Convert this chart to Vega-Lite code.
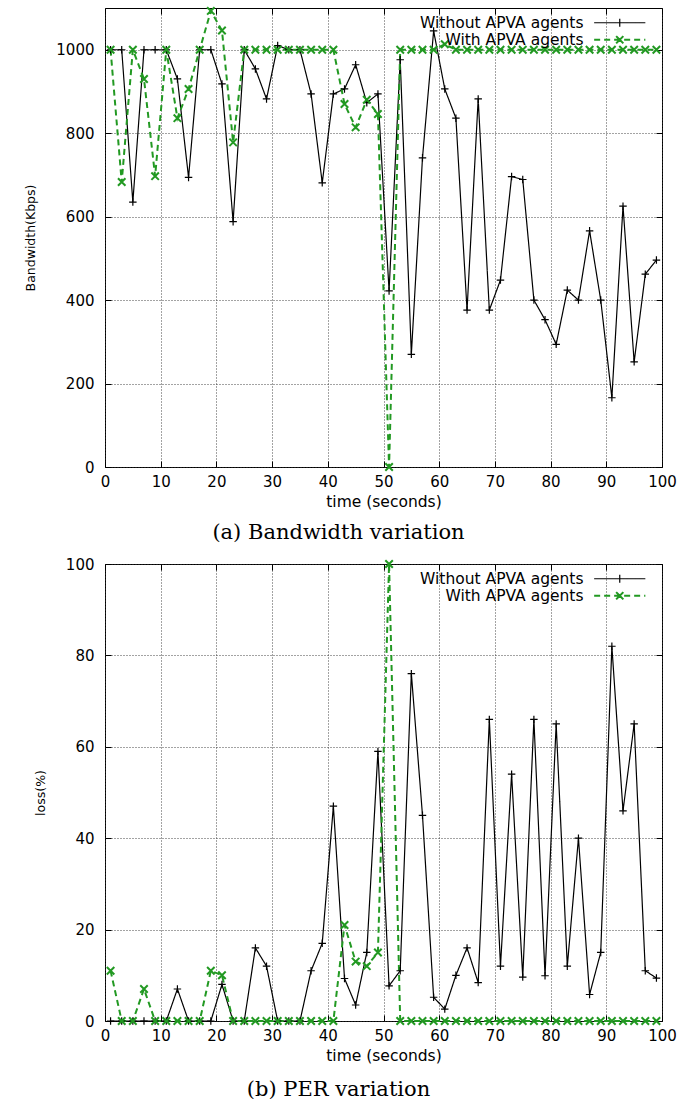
{
  "$schema": "https://vega.github.io/schema/vega-lite/v6.json",
  "padding": {"left": 24, "top": 2, "right": 0, "bottom": 0},
  "background": "white",
  "spacing": 12,
  "config": {
    "view": {"stroke": "#000", "strokeWidth": 1},
    "font": "DejaVu Sans",
    "axis": {"domain": false, "tickColor": "#000", "tickSize": -6, "tickWidth": 1, "labelColor": "#000", "labelFont": "DejaVu Sans", "labelFontSize": 15, "titleFont": "DejaVu Sans", "titleFontWeight": "normal", "titleColor": "#000", "gridColor": "#333", "gridDash": [1, 2], "gridOpacity": 0.9, "labelFlush": false, "format": "d"},
    "axisX": {"labelPadding": 13, "titlePadding": 5, "titleFontSize": 15.5},
    "axisY": {"labelPadding": 17, "titlePadding": 18, "titleFontSize": 12.5},
    "title": {"font": "DejaVu Serif", "fontSize": 21, "fontWeight": "normal", "color": "#000", "orient": "bottom", "offset": 12, "dx": -45},
    "legend": {
      "title": null, "orient": "none", "legendX": 507, "legendY": 7, "labelAlign": "right", "labelOffset": -44, "labelFontSize": 15.5, "labelFont": "DejaVu Sans", "labelColor": "#000", "symbolType": "M-6.4,0H6.4", "symbolSize": 64, "rowPadding": -4, "padding": 0, "labelLimit": 0, "symbolStrokeWidth": 1.2
    }
  },
  "datasets": {
    "bw": [
      {"t":1,"s":"Without APVA agents","v":1000},{"t":3,"s":"Without APVA agents","v":1000},{"t":5,"s":"Without APVA agents","v":635},{"t":7,"s":"Without APVA agents","v":1000},{"t":9,"s":"Without APVA agents","v":1000},{"t":11,"s":"Without APVA agents","v":1000},{"t":13,"s":"Without APVA agents","v":930},{"t":15,"s":"Without APVA agents","v":694},{"t":17,"s":"Without APVA agents","v":1000},{"t":19,"s":"Without APVA agents","v":1000},{"t":21,"s":"Without APVA agents","v":918},{"t":23,"s":"Without APVA agents","v":588},{"t":25,"s":"Without APVA agents","v":1000},{"t":27,"s":"Without APVA agents","v":954},{"t":29,"s":"Without APVA agents","v":882},{"t":31,"s":"Without APVA agents","v":1010},{"t":33,"s":"Without APVA agents","v":1000},{"t":35,"s":"Without APVA agents","v":1000},{"t":37,"s":"Without APVA agents","v":894},{"t":39,"s":"Without APVA agents","v":681},{"t":41,"s":"Without APVA agents","v":894},{"t":43,"s":"Without APVA agents","v":906},{"t":45,"s":"Without APVA agents","v":964},{"t":47,"s":"Without APVA agents","v":873},{"t":49,"s":"Without APVA agents","v":894},{"t":51,"s":"Without APVA agents","v":422},{"t":53,"s":"Without APVA agents","v":976},{"t":55,"s":"Without APVA agents","v":270},{"t":57,"s":"Without APVA agents","v":741},{"t":59,"s":"Without APVA agents","v":1045},{"t":61,"s":"Without APVA agents","v":906},{"t":63,"s":"Without APVA agents","v":836},{"t":65,"s":"Without APVA agents","v":376},{"t":67,"s":"Without APVA agents","v":882},{"t":69,"s":"Without APVA agents","v":376},{"t":71,"s":"Without APVA agents","v":448},{"t":73,"s":"Without APVA agents","v":696},{"t":75,"s":"Without APVA agents","v":689},{"t":77,"s":"Without APVA agents","v":400},{"t":79,"s":"Without APVA agents","v":353},{"t":81,"s":"Without APVA agents","v":294},{"t":83,"s":"Without APVA agents","v":424},{"t":85,"s":"Without APVA agents","v":400},{"t":87,"s":"Without APVA agents","v":566},{"t":89,"s":"Without APVA agents","v":400},{"t":91,"s":"Without APVA agents","v":166},{"t":93,"s":"Without APVA agents","v":625},{"t":95,"s":"Without APVA agents","v":252},{"t":97,"s":"Without APVA agents","v":462},{"t":99,"s":"Without APVA agents","v":496},
      {"t":1,"s":"With APVA agents","v":1000},{"t":3,"s":"With APVA agents","v":683},{"t":5,"s":"With APVA agents","v":1000},{"t":7,"s":"With APVA agents","v":930},{"t":9,"s":"With APVA agents","v":697},{"t":11,"s":"With APVA agents","v":1000},{"t":13,"s":"With APVA agents","v":836},{"t":15,"s":"With APVA agents","v":906},{"t":17,"s":"With APVA agents","v":1000},{"t":19,"s":"With APVA agents","v":1093},{"t":21,"s":"With APVA agents","v":1046},{"t":23,"s":"With APVA agents","v":778},{"t":25,"s":"With APVA agents","v":1000},{"t":27,"s":"With APVA agents","v":1000},{"t":29,"s":"With APVA agents","v":1000},{"t":31,"s":"With APVA agents","v":1000},{"t":33,"s":"With APVA agents","v":1000},{"t":35,"s":"With APVA agents","v":1000},{"t":37,"s":"With APVA agents","v":1000},{"t":39,"s":"With APVA agents","v":1000},{"t":41,"s":"With APVA agents","v":1000},{"t":43,"s":"With APVA agents","v":870},{"t":45,"s":"With APVA agents","v":814},{"t":47,"s":"With APVA agents","v":880},{"t":49,"s":"With APVA agents","v":846},{"t":51,"s":"With APVA agents","v":0},{"t":53,"s":"With APVA agents","v":1000},{"t":55,"s":"With APVA agents","v":1000},{"t":57,"s":"With APVA agents","v":1000},{"t":59,"s":"With APVA agents","v":1000},{"t":61,"s":"With APVA agents","v":1013},{"t":63,"s":"With APVA agents","v":1000},{"t":65,"s":"With APVA agents","v":1000},{"t":67,"s":"With APVA agents","v":1000},{"t":69,"s":"With APVA agents","v":1000},{"t":71,"s":"With APVA agents","v":1000},{"t":73,"s":"With APVA agents","v":1000},{"t":75,"s":"With APVA agents","v":1000},{"t":77,"s":"With APVA agents","v":1000},{"t":79,"s":"With APVA agents","v":1000},{"t":81,"s":"With APVA agents","v":1000},{"t":83,"s":"With APVA agents","v":1000},{"t":85,"s":"With APVA agents","v":1000},{"t":87,"s":"With APVA agents","v":1000},{"t":89,"s":"With APVA agents","v":1000},{"t":91,"s":"With APVA agents","v":1000},{"t":93,"s":"With APVA agents","v":1000},{"t":95,"s":"With APVA agents","v":1000},{"t":97,"s":"With APVA agents","v":1000},{"t":99,"s":"With APVA agents","v":1000}
    ],
    "per": [
      {"t":1,"s":"Without APVA agents","v":0},{"t":3,"s":"Without APVA agents","v":0},{"t":5,"s":"Without APVA agents","v":0},{"t":7,"s":"Without APVA agents","v":0},{"t":9,"s":"Without APVA agents","v":0},{"t":11,"s":"Without APVA agents","v":0},{"t":13,"s":"Without APVA agents","v":7},{"t":15,"s":"Without APVA agents","v":0},{"t":17,"s":"Without APVA agents","v":0},{"t":19,"s":"Without APVA agents","v":0},{"t":21,"s":"Without APVA agents","v":8},{"t":23,"s":"Without APVA agents","v":0},{"t":25,"s":"Without APVA agents","v":0},{"t":27,"s":"Without APVA agents","v":16},{"t":29,"s":"Without APVA agents","v":12},{"t":31,"s":"Without APVA agents","v":0},{"t":33,"s":"Without APVA agents","v":0},{"t":35,"s":"Without APVA agents","v":0},{"t":37,"s":"Without APVA agents","v":11},{"t":39,"s":"Without APVA agents","v":17},{"t":41,"s":"Without APVA agents","v":47},{"t":43,"s":"Without APVA agents","v":9.3},{"t":45,"s":"Without APVA agents","v":3.5},{"t":47,"s":"Without APVA agents","v":15},{"t":49,"s":"Without APVA agents","v":59},{"t":51,"s":"Without APVA agents","v":7.7},{"t":53,"s":"Without APVA agents","v":11},{"t":55,"s":"Without APVA agents","v":76},{"t":57,"s":"Without APVA agents","v":45},{"t":59,"s":"Without APVA agents","v":5.2},{"t":61,"s":"Without APVA agents","v":2.6},{"t":63,"s":"Without APVA agents","v":10},{"t":65,"s":"Without APVA agents","v":16},{"t":67,"s":"Without APVA agents","v":8.4},{"t":69,"s":"Without APVA agents","v":66},{"t":71,"s":"Without APVA agents","v":12},{"t":73,"s":"Without APVA agents","v":54},{"t":75,"s":"Without APVA agents","v":9.6},{"t":77,"s":"Without APVA agents","v":66},{"t":79,"s":"Without APVA agents","v":9.9},{"t":81,"s":"Without APVA agents","v":65},{"t":83,"s":"Without APVA agents","v":12},{"t":85,"s":"Without APVA agents","v":40},{"t":87,"s":"Without APVA agents","v":5.8},{"t":89,"s":"Without APVA agents","v":15},{"t":91,"s":"Without APVA agents","v":82},{"t":93,"s":"Without APVA agents","v":46},{"t":95,"s":"Without APVA agents","v":65},{"t":97,"s":"Without APVA agents","v":11},{"t":99,"s":"Without APVA agents","v":9.4},
      {"t":1,"s":"With APVA agents","v":11},{"t":3,"s":"With APVA agents","v":0},{"t":5,"s":"With APVA agents","v":0},{"t":7,"s":"With APVA agents","v":7},{"t":9,"s":"With APVA agents","v":0},{"t":11,"s":"With APVA agents","v":0},{"t":13,"s":"With APVA agents","v":0},{"t":15,"s":"With APVA agents","v":0},{"t":17,"s":"With APVA agents","v":0},{"t":19,"s":"With APVA agents","v":11},{"t":21,"s":"With APVA agents","v":10},{"t":23,"s":"With APVA agents","v":0},{"t":25,"s":"With APVA agents","v":0},{"t":27,"s":"With APVA agents","v":0},{"t":29,"s":"With APVA agents","v":0},{"t":31,"s":"With APVA agents","v":0},{"t":33,"s":"With APVA agents","v":0},{"t":35,"s":"With APVA agents","v":0},{"t":37,"s":"With APVA agents","v":0},{"t":39,"s":"With APVA agents","v":0},{"t":41,"s":"With APVA agents","v":0},{"t":43,"s":"With APVA agents","v":21},{"t":45,"s":"With APVA agents","v":13},{"t":47,"s":"With APVA agents","v":12},{"t":49,"s":"With APVA agents","v":15},{"t":51,"s":"With APVA agents","v":100},{"t":53,"s":"With APVA agents","v":0},{"t":55,"s":"With APVA agents","v":0},{"t":57,"s":"With APVA agents","v":0},{"t":59,"s":"With APVA agents","v":0},{"t":61,"s":"With APVA agents","v":0},{"t":63,"s":"With APVA agents","v":0},{"t":65,"s":"With APVA agents","v":0},{"t":67,"s":"With APVA agents","v":0},{"t":69,"s":"With APVA agents","v":0},{"t":71,"s":"With APVA agents","v":0},{"t":73,"s":"With APVA agents","v":0},{"t":75,"s":"With APVA agents","v":0},{"t":77,"s":"With APVA agents","v":0},{"t":79,"s":"With APVA agents","v":0},{"t":81,"s":"With APVA agents","v":0},{"t":83,"s":"With APVA agents","v":0},{"t":85,"s":"With APVA agents","v":0},{"t":87,"s":"With APVA agents","v":0},{"t":89,"s":"With APVA agents","v":0},{"t":91,"s":"With APVA agents","v":0},{"t":93,"s":"With APVA agents","v":0},{"t":95,"s":"With APVA agents","v":0},{"t":97,"s":"With APVA agents","v":0},{"t":99,"s":"With APVA agents","v":0}
    ]
  },
  "resolve": {"scale": {"color": "independent", "strokeDash": "independent"}, "legend": {"color": "independent", "strokeDash": "independent"}},
  "vconcat": [
    {
      "width": 557, "height": 459,
      "title": {"text": "(a) Bandwidth variation"},
      "data": {"name": "bw"},
      "resolve": {"axis": {"x": "independent", "y": "independent"}},
      "layer": [
        {
          "mark": {"type": "line"},
          "encoding": {
            "x": {"field": "t", "type": "quantitative", "scale": {"domain": [0, 100], "nice": false}, "axis": {"values": [0,10,20,30,40,50,60,70,80,90,100], "title": "time (seconds)", "grid": true}},
            "y": {"field": "v", "type": "quantitative", "scale": {"domain": [0, 1100], "nice": false}, "axis": {"values": [0,200,400,600,800,1000], "title": "Bandwidth(Kbps)", "grid": true}},
            "color": {"field": "s", "type": "nominal", "scale": {"domain": ["Without APVA agents", "With APVA agents"], "range": ["#000000", "#229922"]},
              "legend": {"encode": {"symbols": {"update": {"shape": {"signal": "datum.value == 'Without APVA agents' ? 'M-6.4,0H6.4M0,0V1M0,0V-1' : 'M-6.4,0H6.4M0,0L0.9,0.9M0,0L-0.9,-0.9M0,0L0.9,-0.9M0,0L-0.9,0.9'"}, "strokeWidth": {"signal": "datum.value == 'Without APVA agents' ? 1.2 : 2"}, "fill": {"value": "transparent"}}}}}},
            "strokeDash": {"field": "s", "type": "nominal", "scale": {"domain": ["Without APVA agents", "With APVA agents"], "range": [[1, 0], [6, 4]]},
              "legend": {"encode": {"symbols": {"update": {"shape": {"signal": "datum.value == 'Without APVA agents' ? 'M-6.4,0H6.4M0,0V1M0,0V-1' : 'M-6.4,0H6.4M0,0L0.9,0.9M0,0L-0.9,-0.9M0,0L0.9,-0.9M0,0L-0.9,0.9'"}, "strokeWidth": {"signal": "datum.value == 'Without APVA agents' ? 1.2 : 2"}, "fill": {"value": "transparent"}}}}}},
            "strokeWidth": {"field": "s", "type": "ordinal", "scale": {"domain": ["Without APVA agents", "With APVA agents"], "range": [1.2, 2]}, "legend": null}
          }
        },
        {
          "mark": {"type": "point", "filled": false, "opacity": 1, "size": 56},
          "encoding": {
            "x": {"field": "t", "type": "quantitative", "axis": {"orient": "top", "values": [0,10,20,30,40,50,60,70,80,90,100], "labels": false, "title": null, "grid": false}},
            "y": {"field": "v", "type": "quantitative", "axis": {"orient": "right", "values": [0,200,400,600,800,1000], "labels": false, "title": null, "grid": false}},
            "stroke": {"field": "s", "type": "nominal", "scale": {"domain": ["Without APVA agents", "With APVA agents"], "range": ["#000000", "#229922"]}, "legend": null},
            "shape": {"field": "s", "type": "nominal", "scale": {"domain": ["Without APVA agents", "With APVA agents"], "range": ["M-1,0H1M0,-1V1", "M-1,-1L1,1M-1,1L1,-1"]}, "legend": null},
            "strokeWidth": {"field": "s", "type": "ordinal", "scale": {"domain": ["Without APVA agents", "With APVA agents"], "range": [1.2, 2]}, "legend": null}
          }
        }
      ]
    },
    {
      "width": 557, "height": 457,
      "title": {"text": "(b) PER variation", "offset": 15},
      "data": {"name": "per"},
      "resolve": {"axis": {"x": "independent", "y": "independent"}},
      "layer": [
        {
          "mark": {"type": "line"},
          "encoding": {
            "x": {"field": "t", "type": "quantitative", "scale": {"domain": [0, 100], "nice": false}, "axis": {"values": [0,10,20,30,40,50,60,70,80,90,100], "title": "time (seconds)", "grid": true}},
            "y": {"field": "v", "type": "quantitative", "scale": {"domain": [0, 100], "nice": false}, "axis": {"values": [0,20,40,60,80,100], "title": "loss(%)", "grid": true}},
            "color": {"field": "s", "type": "nominal", "scale": {"domain": ["Without APVA agents", "With APVA agents"], "range": ["#000000", "#229922"]},
              "legend": {"encode": {"symbols": {"update": {"shape": {"signal": "datum.value == 'Without APVA agents' ? 'M-6.4,0H6.4M0,0V1M0,0V-1' : 'M-6.4,0H6.4M0,0L0.9,0.9M0,0L-0.9,-0.9M0,0L0.9,-0.9M0,0L-0.9,0.9'"}, "strokeWidth": {"signal": "datum.value == 'Without APVA agents' ? 1.2 : 2"}, "fill": {"value": "transparent"}}}}}},
            "strokeDash": {"field": "s", "type": "nominal", "scale": {"domain": ["Without APVA agents", "With APVA agents"], "range": [[1, 0], [6, 4]]},
              "legend": {"encode": {"symbols": {"update": {"shape": {"signal": "datum.value == 'Without APVA agents' ? 'M-6.4,0H6.4M0,0V1M0,0V-1' : 'M-6.4,0H6.4M0,0L0.9,0.9M0,0L-0.9,-0.9M0,0L0.9,-0.9M0,0L-0.9,0.9'"}, "strokeWidth": {"signal": "datum.value == 'Without APVA agents' ? 1.2 : 2"}, "fill": {"value": "transparent"}}}}}},
            "strokeWidth": {"field": "s", "type": "ordinal", "scale": {"domain": ["Without APVA agents", "With APVA agents"], "range": [1.2, 2]}, "legend": null}
          }
        },
        {
          "mark": {"type": "point", "filled": false, "opacity": 1, "size": 56},
          "encoding": {
            "x": {"field": "t", "type": "quantitative", "axis": {"orient": "top", "values": [0,10,20,30,40,50,60,70,80,90,100], "labels": false, "title": null, "grid": false}},
            "y": {"field": "v", "type": "quantitative", "axis": {"orient": "right", "values": [0,20,40,60,80,100], "labels": false, "title": null, "grid": false}},
            "stroke": {"field": "s", "type": "nominal", "scale": {"domain": ["Without APVA agents", "With APVA agents"], "range": ["#000000", "#229922"]}, "legend": null},
            "shape": {"field": "s", "type": "nominal", "scale": {"domain": ["Without APVA agents", "With APVA agents"], "range": ["M-1,0H1M0,-1V1", "M-1,-1L1,1M-1,1L1,-1"]}, "legend": null},
            "strokeWidth": {"field": "s", "type": "ordinal", "scale": {"domain": ["Without APVA agents", "With APVA agents"], "range": [1.2, 2]}, "legend": null}
          }
        }
      ]
    }
  ]
}
